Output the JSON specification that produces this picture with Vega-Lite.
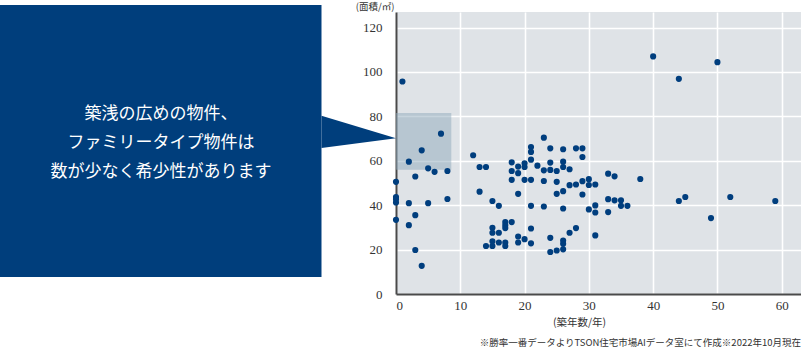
{
  "$schema": "https://vega.github.io/schema/vega-lite/v6.json",
  "width": 405,
  "height": 282,
  "padding": {"left": 0, "top": 1, "right": 0, "bottom": 0},
  "background": "white",
  "config": {
    "view": {"stroke": null, "fill": "#dfe3e7"},
    "axis": {
      "labelFont": "Liberation Serif",
      "labelColor": "#333333",
      "domainColor": "#4a4a4a",
      "domainWidth": 2,
      "gridColor": "#ffffff",
      "gridWidth": 1.6,
      "ticks": false,
      "titleFont": "Noto Sans CJK JP",
      "titleFontWeight": "normal",
      "titleColor": "#333333"
    }
  },
  "title": {
    "text": "※勝率一番データよりTSON住宅市場AIデータ室にて作成※2022年10月現在",
    "orient": "bottom",
    "anchor": "end",
    "font": "Noto Sans CJK JP",
    "fontSize": 9.5,
    "fontWeight": "normal",
    "color": "#333333",
    "offset": 10
  },
  "datasets": {
    "pts": [
      {"age": 0, "area": 50.5}, {"age": 0, "area": 43.7}, {"age": 0, "area": 42.7}, {"age": 0, "area": 41.2}, {"age": 0, "area": 33.4},
      {"age": 1, "area": 95.7},
      {"age": 2, "area": 59.6}, {"age": 2, "area": 40.9}, {"age": 2, "area": 31},
      {"age": 3, "area": 52.9}, {"age": 3, "area": 35.5}, {"age": 3, "area": 19.8},
      {"age": 4, "area": 64.7}, {"age": 4, "area": 12.7},
      {"age": 5, "area": 56.6}, {"age": 5, "area": 40.9},
      {"age": 6, "area": 55},
      {"age": 7, "area": 72.2},
      {"age": 8, "area": 55.4}, {"age": 8, "area": 42.8},
      {"age": 12, "area": 62.5},
      {"age": 13, "area": 57.2}, {"age": 13, "area": 46.1},
      {"age": 14, "area": 57.2}, {"age": 14, "area": 21.6},
      {"age": 15, "area": 41.9}, {"age": 15, "area": 29.8}, {"age": 15, "area": 27.6}, {"age": 15, "area": 23.7}, {"age": 15, "area": 21.6},
      {"age": 16, "area": 39.7}, {"age": 16, "area": 27.6}, {"age": 16, "area": 23.2},
      {"age": 17, "area": 32.4}, {"age": 17, "area": 31}, {"age": 17, "area": 29.7}, {"age": 17, "area": 23.2}, {"age": 17, "area": 21.6},
      {"age": 18, "area": 32.4}, {"age": 18, "area": 59.3}, {"age": 18, "area": 55.4}, {"age": 18, "area": 51.4},
      {"age": 19, "area": 57.4}, {"age": 19, "area": 54.4}, {"age": 19, "area": 45.1}, {"age": 19, "area": 25.9}, {"age": 19, "area": 23.2},
      {"age": 20, "area": 58.9}, {"age": 20, "area": 57.2}, {"age": 20, "area": 51.4}, {"age": 20, "area": 24.7},
      {"age": 21, "area": 66.2}, {"age": 21, "area": 64}, {"age": 21, "area": 60.5}, {"age": 21, "area": 51.4}, {"age": 21, "area": 39.7}, {"age": 21, "area": 29.5}, {"age": 21, "area": 22.8},
      {"age": 22, "area": 57.8},
      {"age": 23, "area": 70.4}, {"age": 23, "area": 55.7}, {"age": 23, "area": 50.9}, {"age": 23, "area": 39.4},
      {"age": 24, "area": 65.6}, {"age": 24, "area": 59.2}, {"age": 24, "area": 55.9}, {"age": 24, "area": 25.3}, {"age": 24, "area": 18.9},
      {"age": 25, "area": 55.4}, {"age": 25, "area": 50.5}, {"age": 25, "area": 45.1}, {"age": 25, "area": 19.6},
      {"age": 26, "area": 65.2}, {"age": 26, "area": 59.6}, {"age": 26, "area": 57.2}, {"age": 26, "area": 46.3}, {"age": 26, "area": 38.5}, {"age": 26, "area": 24.1}, {"age": 26, "area": 22.6}, {"age": 26, "area": 20.1},
      {"age": 27, "area": 56.2}, {"age": 27, "area": 49}, {"age": 27, "area": 27.6},
      {"age": 28, "area": 65.6}, {"age": 28, "area": 49.3}, {"age": 28, "area": 29.7},
      {"age": 29, "area": 65.6}, {"age": 29, "area": 61.7}, {"age": 29, "area": 50.8}, {"age": 29, "area": 44.8},
      {"age": 30, "area": 51.7}, {"age": 30, "area": 49.1}, {"age": 30, "area": 38.1},
      {"age": 31, "area": 49.3}, {"age": 31, "area": 39.9}, {"age": 31, "area": 36.7}, {"age": 31, "area": 26.4},
      {"age": 33, "area": 54.2}, {"age": 33, "area": 42.7}, {"age": 33, "area": 36.9},
      {"age": 34, "area": 53}, {"age": 34, "area": 42.2},
      {"age": 35, "area": 42.2}, {"age": 35, "area": 39.7},
      {"age": 36, "area": 39.7},
      {"age": 38, "area": 51.8},
      {"age": 40, "area": 107},
      {"age": 44, "area": 96.9}, {"age": 44, "area": 41.9},
      {"age": 45, "area": 43.7},
      {"age": 49, "area": 34.2},
      {"age": 50, "area": 104.4},
      {"age": 52, "area": 43.7},
      {"age": 59, "area": 41.9}
    ],
    "highlight": [{"x0": 0, "x1": 8.6, "y0": 56, "y1": 81.5}],
    "box": [{"x0": -61.6, "x1": -11.59, "y0": 7.66, "y1": 130.15}],
    "pointer": [
      {"px": -11.59, "lo": 65.75, "hi": 80.3},
      {"px": 0, "lo": 70.1, "hi": 70.1}
    ],
    "note": [{"cx": -36.55, "cy": 81.1, "label": "築浅の広めの物件、\nファミリータイプ物件は\n数が少なく希少性があります"}]
  },
  "layer": [
    {
      "data": {"name": "highlight"},
      "mark": {"type": "rect", "fill": "#8fa9bc", "opacity": 0.5},
      "encoding": {
        "x": {
          "field": "x0", "type": "quantitative",
          "scale": {"domain": [0, 63], "nice": false, "zero": false},
          "axis": {
            "values": [0, 10, 20, 30, 40, 50, 60],
            "labelFontSize": 13,
            "labelPadding": 5,
            "title": "(築年数/年)",
            "titleFontSize": 10.5,
            "titleX": 183,
            "titleY": 28,
            "titleBaseline": "middle",
            "titleAlign": "center"
          }
        },
        "x2": {"field": "x1"},
        "y": {
          "field": "y0", "type": "quantitative",
          "scale": {"domain": [0, 127], "nice": false, "zero": false},
          "axis": {
            "values": [0, 20, 40, 60, 80, 100, 120],
            "labelFontSize": 13,
            "labelPadding": 14,
            "title": "(面積/㎡)",
            "titleFontSize": 9.5,
            "titleAngle": 0,
            "titleAlign": "right",
            "titleBaseline": "middle",
            "titleX": -2,
            "titleY": -6
          }
        },
        "y2": {"field": "y1"}
      }
    },
    {
      "data": {"name": "pts"},
      "mark": {"type": "circle", "size": 38, "opacity": 1, "color": "#003e7e"},
      "encoding": {
        "x": {"field": "age", "type": "quantitative"},
        "y": {"field": "area", "type": "quantitative"}
      }
    },
    {
      "data": {"name": "box"},
      "mark": {"type": "rect", "fill": "#003e7c"},
      "encoding": {
        "x": {"field": "x0", "type": "quantitative"},
        "x2": {"field": "x1"},
        "y": {"field": "y0", "type": "quantitative"},
        "y2": {"field": "y1"}
      }
    },
    {
      "data": {"name": "pointer"},
      "mark": {"type": "area", "orient": "vertical", "fill": "#003e7c", "opacity": 1},
      "encoding": {
        "x": {"field": "px", "type": "quantitative"},
        "y": {"field": "lo", "type": "quantitative"},
        "y2": {"field": "hi"}
      }
    },
    {
      "data": {"name": "note"},
      "mark": {"type": "text", "color": "white", "font": "Noto Sans CJK JP", "fontSize": 17, "lineBreak": "\n", "lineHeight": 29, "align": "center", "baseline": "middle"},
      "encoding": {
        "x": {"field": "cx", "type": "quantitative"},
        "y": {"field": "cy", "type": "quantitative"},
        "text": {"field": "label"}
      }
    }
  ]
}
